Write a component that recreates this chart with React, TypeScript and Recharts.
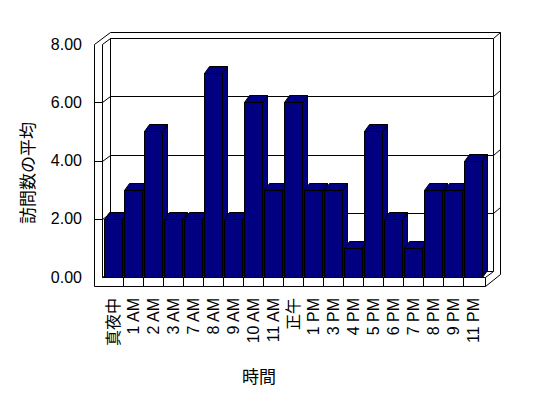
import React from 'react';
import { BarChart, Bar, XAxis, YAxis, CartesianGrid } from 'recharts';

const categories = ['真夜中', '1 AM', '2 AM', '3 AM', '7 AM', '8 AM', '9 AM', '10 AM', '11 AM', '正午', '1 PM', '3 PM', '4 PM', '5 PM', '6 PM', '7 PM', '8 PM', '9 PM', '11 PM'];
const visits = [2, 3, 5, 2, 2, 7, 2, 6, 3, 6, 3, 3, 1, 5, 2, 1, 3, 3, 4];
const yTicks = [0, 2, 4, 6, 8];

const data = categories.map((name, i) => ({ name, value: visits[i] }));

const FONT = "'Liberation Sans', 'Noto Sans CJK JP', sans-serif";
const JP_FONT = "'Noto Sans CJK JP', sans-serif";
const NAVY = '#000080';

// depth of the 3d box
const DX = 8;
const DY = -6;

// 3d column: front face + top + right side
const Bar3D = (props: any) => {
  const { x, y, width, height } = props;
  if (x == null || height == null || height <= 0) return null;
  const bx = Math.round(x) + 0.5;
  const by = Math.round(y) + 0.5;
  const w = Math.round(width);
  const h = Math.round(y + height) - Math.round(y);
  const dx = 5;
  const dy = -7;
  return (
    <g stroke="#000" strokeWidth={1} fill={NAVY}>
      <polygon points={`${bx + w},${by} ${bx + w + dx},${by + dy} ${bx + w + dx},${by + h + dy} ${bx + w},${by + h}`} />
      <polygon points={`${bx},${by} ${bx + dx},${by + dy} ${bx + w + dx},${by + dy} ${bx + w},${by}`} />
      <rect x={bx} y={by} width={w} height={h} />
    </g>
  );
};

// walls, floor and gridlines drawn from the grid's line positions
const renderWall = (p: any) => {
  const L = Math.round(p.x1);
  const R = Math.round(p.x2);
  const top = Math.round(p.y);
  const bottom = Math.round(p.y + p.height);
  const yy = Math.round(p.y1);
  const outerX = L - 9;
  const innerX = L - 1;
  const backL = innerX + DX;
  const frontR = R + 2;
  const backR = frontR + DX;
  const outerR = backR + 7;
  const floorB = bottom + 9;
  const parts: string[] = [];

  if (p.index === 0) {
    // outer silhouette
    parts.push(`M${outerX} ${floorB} V${top} L${outerX + 2 * DX} ${top + 2 * DY} H${outerR} V${floorB + 2 * DY} L${frontR} ${floorB} H${outerX}`);
    // left wall front edge and floor front edge
    parts.push(`M${innerX} ${top} V${bottom} H${frontR} V${floorB}`);
    // back wall
    parts.push(`M${innerX} ${top} L${backL} ${top + DY} H${backR} L${outerR} ${top + 2 * DY}`);
    parts.push(`M${backL} ${top + DY} V${bottom + DY} H${backR} V${top + DY}`);
    parts.push(`M${innerX} ${bottom} L${backL} ${bottom + DY}`);
    parts.push(`M${frontR} ${bottom} L${backR} ${bottom + DY}`);
    // category ticks on the floor
    const band = (R - L) / categories.length;
    for (let i = 1; i < categories.length; i++) {
      const tx = Math.round(L + band * i);
      parts.push(`M${tx} ${bottom} V${floorB}`);
    }
  }
  if (Math.abs(yy - top) > 1 && Math.abs(yy - bottom) > 1) {
    parts.push(`M${outerX} ${yy} H${innerX} L${backL} ${yy + DY} H${backR} L${outerR} ${yy + 2 * DY}`);
  }
  return (
    <path key={p.key ?? `w${p.index}`} d={parts.join(' ')} transform="translate(0.5,0.5)" stroke="#000" strokeWidth={1} fill="none" />
  );
};

const XTick = (props: any) => {
  const { x, y, payload } = props;
  return (
    <text
      x={x}
      y={y}
      transform={`rotate(-90, ${x}, ${y})`}
      textAnchor="end"
      dominantBaseline="central"
      fontSize={16}
      fill="#000"
      fontFamily={FONT}
    >
      {payload.value}
    </text>
  );
};

export default function App() {
  return (
    <div style={{ position: 'absolute', left: 0, top: 0, width: 548, height: 398, background: '#fff' }}>
      <BarChart
        width={548}
        height={398}
        data={data}
        margin={{ top: 44, right: 65, bottom: 21, left: 3 }}
        style={{ fontFamily: FONT }}
      >
        <CartesianGrid vertical={false} horizontal={renderWall} />
        <XAxis
          dataKey="name"
          height={100}
          interval={0}
          axisLine={false}
          tickLine={false}
          tickSize={0}
          tickMargin={21}
          tick={<XTick />}
          label={{ value: '時間', position: 'center', dx: -34, dy: 50, fontSize: 17, fill: '#000', fontFamily: JP_FONT }}
        />
        <YAxis
          width={100}
          domain={[0, 8]}
          ticks={yTicks}
          interval={0}
          axisLine={false}
          tickLine={false}
          tickSize={0}
          tickMargin={21}
          tickFormatter={(v: number) => v.toFixed(2)}
          tick={{ fontSize: 16, fill: '#000', fontFamily: FONT }}
          label={{ value: '訪問数の平均', angle: -90, position: 'center', dx: -25.5, dy: 12.5, fontSize: 17, fill: '#000', fontFamily: JP_FONT }}
        />
        <Bar dataKey="value" barSize={18} shape={<Bar3D />} isAnimationActive={false} />
      </BarChart>
    </div>
  );
}
